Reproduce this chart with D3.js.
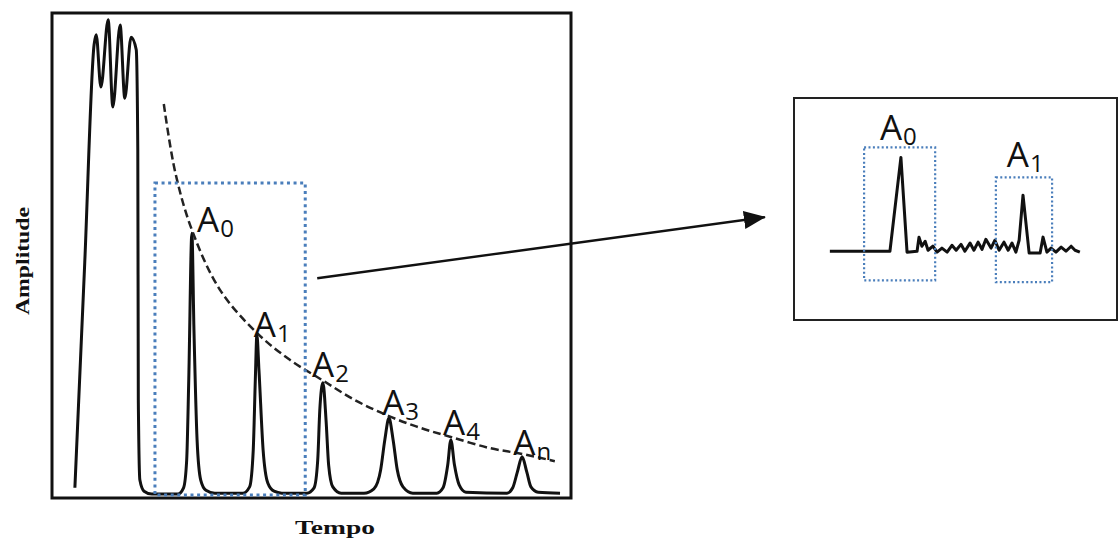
<!DOCTYPE html>
<html lang="pt">
<head>
<meta charset="UTF-8">
<title>Amplitude x Tempo</title>
<style>
  body { margin: 0; background: #fff; }
  svg { display: block; }
  .lbl { font-family: "Open Sans", sans-serif; font-size: 35px; fill: #111; }
  .axis-title { font-family: "Liberation Serif", "DejaVu Serif", serif; font-weight: bold; font-size: 19px; fill: #111; }
</style>
</head>
<body>
<svg id="chart"></svg>
<script src="https://d3js.org/d3.v7.min.js"></script>
<script>
// main signal (time in arbitrary units 0-10, amplitude 0-10)
const signalTime = [0.44, 0.63, 0.81, 0.85, 0.94, 1.08, 1.17, 1.31, 1.40, 1.52, 1.62, 1.65, 1.66, 1.69, 1.77, 1.92,
  2.42, 2.53, 2.59, 2.63, 2.69, 2.73, 2.79, 2.86, 2.96, 3.13,
  3.67, 3.80, 3.87, 3.91, 3.94, 3.98, 4.06, 4.15, 4.27, 4.42,
  4.90, 5.04, 5.11, 5.15, 5.21, 5.27, 5.32, 5.40, 5.56,
  6.00, 6.19, 6.32, 6.40, 6.48, 6.56, 6.64, 6.75, 6.94,
  7.40, 7.52, 7.61, 7.67, 7.74, 7.83, 7.96,
  8.75, 8.86, 8.95, 9.04, 9.13, 9.21, 9.35, 9.77];
const signalAmp = [0.19, 4.85, 9.35, 9.55, 8.47, 9.86, 8.06, 9.75, 8.24, 9.50, 9.24, 7.17, 2.0, 0.35, 0.12, 0.06,
  0.06, 0.19, 0.76, 2.42, 5.45, 3.45, 1.18, 0.35, 0.14, 0.08,
  0.08, 0.21, 0.97, 2.42, 3.35, 2.62, 0.97, 0.29, 0.12, 0.08,
  0.08, 0.19, 0.76, 1.80, 2.36, 1.59, 0.66, 0.21, 0.08,
  0.08, 0.17, 0.56, 1.18, 1.63, 1.18, 0.56, 0.21, 0.08,
  0.08, 0.19, 0.66, 1.18, 0.66, 0.25, 0.10,
  0.08, 0.19, 0.52, 0.83, 0.52, 0.21, 0.10, 0.08];

// decay envelope through the peaks
const envTime = [2.15, 2.37, 2.69, 3.23, 3.94, 4.58, 5.19, 5.83, 6.48, 7.08, 7.67, 8.42, 9.04, 9.67];
const envAmp = [8.12, 6.71, 5.52, 4.28, 3.39, 2.83, 2.42, 2.00, 1.67, 1.43, 1.24, 1.01, 0.89, 0.74];

// peak labels
const peakSubs = ["0", "1", "2", "3", "4", "n"];
const peakLabelT = [2.79, 3.88, 5.00, 6.35, 7.52, 8.87];
const peakLabelA = [5.48, 3.31, 2.48, 1.69, 1.28, 0.87];

// highlight box on main chart [t0, t1, a0, a1]
const mainBox = [1.98, 4.87, 0.04, 6.49];

// inset signal (zoomed view)
const insetTime = [1.11, 2.97, 3.31, 3.50, 3.81, 3.87, 3.96, 4.06, 4.15, 4.30, 4.43, 4.58, 4.74, 4.89, 5.02, 5.17,
  5.29, 5.45, 5.57, 5.70, 5.82, 5.94, 6.10, 6.22, 6.35, 6.50, 6.63, 6.75, 6.87, 6.97, 7.09, 7.28, 7.62, 7.71,
  7.83, 7.96, 8.11, 8.27, 8.42, 8.58, 8.70, 8.85];
const insetAmp = [0, 0, 3.0, -0.03, 0, 0.45, 0.16, 0.32, 0.03, 0.16, -0.03, 0.10, -0.03, 0.19, 0.03, 0.22,
  0, 0.26, 0.03, 0.29, 0.06, 0.38, 0.10, 0.35, 0.03, 0.29, 0.03, 0.26, -0.03, 0.35, 1.79, -0.06, -0.06, 0.45,
  -0.03, 0.10, -0.03, 0.13, 0, 0.16, 0.03, -0.03];
const insetSubs = ["0", "1"];
const insetLabelT = [2.66, 6.59];
const insetLabelA = [3.55, 2.68];
const insetBoxes = [[2.17, 4.37, -0.93, 3.32], [6.25, 7.99, -0.99, 2.36]];

// arrow: from main chart point to inset point
const arrowFrom = [5.10, 4.52];
const arrowTo = [-0.90, 1.09];

const width = 1119, height = 545;
const svg = d3.select("#chart").attr("width", width).attr("height", height);

const x = d3.scaleLinear().domain([0, 10]).range([52, 572]);
const y = d3.scaleLinear().domain([0, 10]).range([497, 13]);
const xi = d3.scaleLinear().domain([0, 10]).range([794, 1117]);
const yi = d3.scaleLinear().domain([-2.2, 4.9]).range([320, 98]);

const blue = "#4a7ebb";

// main frame
svg.append("rect")
  .attr("x", x(0)).attr("y", y(10))
  .attr("width", x(10) - x(0) - 1).attr("height", y(0) - y(10) + 1)
  .attr("fill", "none").attr("stroke", "#111").attr("stroke-width", 3);

// signal
const signal = signalTime.map((t, i) => [t, signalAmp[i]]);
svg.append("path")
  .datum(signal)
  .attr("fill", "none").attr("stroke", "#111").attr("stroke-width", 3)
  .attr("stroke-linejoin", "round")
  .attr("d", d3.line().x(d => x(d[0])).y(d => y(d[1])).curve(d3.curveMonotoneX));

// envelope
const env = envTime.map((t, i) => [t, envAmp[i]]);
svg.append("path")
  .datum(env)
  .attr("fill", "none").attr("stroke", "#222").attr("stroke-width", 2.5)
  .attr("stroke-dasharray", "8,4")
  .attr("d", d3.line().x(d => x(d[0])).y(d => y(d[1])).curve(d3.curveCatmullRom));

// dotted highlight
svg.append("rect")
  .attr("x", x(mainBox[0])).attr("y", y(mainBox[3]))
  .attr("width", x(mainBox[1]) - x(mainBox[0]))
  .attr("height", y(mainBox[2]) - y(mainBox[3]))
  .attr("fill", "none").attr("stroke", blue).attr("stroke-width", 3)
  .attr("stroke-dasharray", "3,3.6");

// peak labels
const lbl = svg.append("g").selectAll("text")
  .data(peakSubs)
  .join("text")
  .attr("class", "lbl")
  .attr("x", (d, i) => x(peakLabelT[i]))
  .attr("y", (d, i) => y(peakLabelA[i]));
lbl.append("tspan").text("A");
lbl.append("tspan").attr("font-size", "24px").attr("dx", 1).attr("dy", 5).text(d => d);

// axis titles
svg.append("text").attr("class", "axis-title")
  .attr("x", 335).attr("y", 534).attr("text-anchor", "middle")
  .attr("textLength", 80).attr("lengthAdjust", "spacingAndGlyphs")
  .text("Tempo");
svg.append("text").attr("class", "axis-title")
  .attr("transform", "translate(29,261) rotate(-90)").attr("text-anchor", "middle")
  .attr("textLength", 108).attr("lengthAdjust", "spacingAndGlyphs")
  .text("Amplitude");

// inset frame
svg.append("rect")
  .attr("x", xi(0)).attr("y", yi(4.9))
  .attr("width", xi(10) - xi(0)).attr("height", yi(-2.2) - yi(4.9))
  .attr("fill", "none").attr("stroke", "#222").attr("stroke-width", 2);

const inset = insetTime.map((t, i) => [t, insetAmp[i]]);
svg.append("path")
  .datum(inset)
  .attr("fill", "none").attr("stroke", "#111").attr("stroke-width", 3)
  .attr("stroke-linejoin", "round")
  .attr("d", d3.line().x(d => xi(d[0])).y(d => yi(d[1])));

svg.append("g").selectAll("rect")
  .data(insetBoxes)
  .join("rect")
  .attr("x", d => xi(d[0])).attr("y", d => yi(d[3]))
  .attr("width", d => xi(d[1]) - xi(d[0]))
  .attr("height", d => yi(d[2]) - yi(d[3]))
  .attr("fill", "none").attr("stroke", blue).attr("stroke-width", 2.2)
  .attr("stroke-dasharray", "2,2.4");

const ilbl = svg.append("g").selectAll("text")
  .data(insetSubs)
  .join("text")
  .attr("class", "lbl")
  .attr("x", (d, i) => xi(insetLabelT[i]))
  .attr("y", (d, i) => yi(insetLabelA[i]));
ilbl.append("tspan").text("A");
ilbl.append("tspan").attr("font-size", "24px").attr("dx", 1).attr("dy", 5).text(d => d);

// arrow
svg.append("defs").append("marker")
  .attr("id", "head")
  .attr("viewBox", "0 0 22 18")
  .attr("markerUnits", "userSpaceOnUse")
  .attr("markerWidth", 22).attr("markerHeight", 18)
  .attr("refX", 21).attr("refY", 9)
  .attr("orient", "auto")
  .append("path").attr("d", "M0,0 L22,9 L0,18 Z").attr("fill", "#111");

svg.append("line")
  .attr("x1", x(arrowFrom[0])).attr("y1", y(arrowFrom[1]))
  .attr("x2", xi(arrowTo[0])).attr("y2", yi(arrowTo[1]))
  .attr("stroke", "#111").attr("stroke-width", 2.4)
  .attr("marker-end", "url(#head)");
</script>
</body>
</html>
